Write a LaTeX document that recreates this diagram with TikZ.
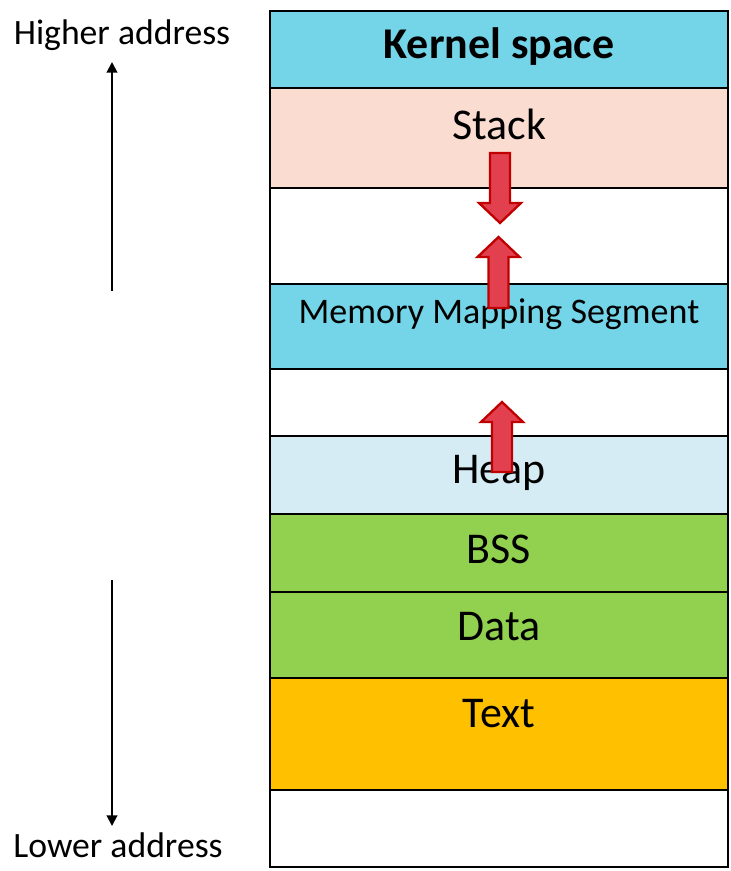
\documentclass[tikz,border=0pt]{standalone}
\usepackage{fontspec}
\setmainfont{Carlito}
\usepackage{tikz}
\usetikzlibrary{arrows.meta, positioning, calc}
\definecolor{kernelcyan}{HTML}{75D5E8}
\definecolor{stackpeach}{HTML}{FADDD0}
\definecolor{heapblue}{HTML}{D5ECF4}
\definecolor{bssgreen}{HTML}{92D050}
\definecolor{textorange}{HTML}{FFC000}
\definecolor{arrowfill}{HTML}{E3404F}
\definecolor{arrowdraw}{HTML}{C00000}
\tikzset{
  seg/.style={draw=black, line width=0.8pt},
  segtext/.style={font=\fontsize{25}{29}\selectfont, inner sep=0pt},
  addrtext/.style={font=\fontsize{20.3}{24}\selectfont, inner sep=0pt},
  addr/.style={line width=1.1pt, -{Triangle[length=6pt, width=6pt]}},
  blockarrow/.style={fill=arrowfill, draw=arrowdraw, line width=1.3pt, line join=miter}
}
\newcommand{\blockarrow}[4]{
    \draw[blockarrow] (#1-10,#2) -- (#1-10,#3) -- (#1-21,#3) -- (#1,#4)
        -- (#1+21,#3) -- (#1+10,#3) -- (#1+10,#2) -- cycle;
}

\begin{document}
\begin{tikzpicture}[x=0.02cm, y=-0.02cm]
    \useasboundingbox (0,0) rectangle (730,871);

    % Segmentos de memoria
    \draw[seg, fill=kernelcyan] (270,11) rectangle (728,88);
    \draw[seg, fill=stackpeach] (270,88) rectangle (728,188);
    \draw[seg, fill=white] (270,188) rectangle (728,284);
    \draw[seg, fill=kernelcyan] (270,284) rectangle (728,369);
    \draw[seg, fill=white] (270,369) rectangle (728,436);
    \draw[seg, fill=heapblue] (270,436) rectangle (728,514);
    \draw[seg, fill=bssgreen] (270,514) rectangle (728,592);
    \draw[seg, fill=bssgreen] (270,592) rectangle (728,678);
    \draw[seg, fill=textorange] (270,678) rectangle (728,790);
    \draw[seg, fill=white] (270,790) rectangle (728,867);

    % Etiquetas de los segmentos
    \node[segtext, font=\fontsize{25}{29}\selectfont\bfseries] (kernel) at (499,47) {Kernel space};
    \node[segtext] (stack) at (499,124) {Stack};
    \node[segtext, font=\fontsize{20.5}{24}\selectfont] (mmap) at (499,314) {Memory Mapping Segment};
    \node[segtext] (heap) at (499,473) {Heap};
    \node[segtext] (bss) at (499,549) {BSS};
    \node[segtext] (data) at (499,627) {Data};
    \node[segtext] (text) at (499,714) {Text};

    % Flechas de crecimiento
    \blockarrow{500}{153}{203}{223}
    \blockarrow{498.5}{308}{257}{237}
    \blockarrow{502}{472}{422}{402}

    % Direcciones
    \node[addrtext] (higher) at (122,35) {Higher address};
    \node[addrtext] (lower) at (118,845) {Lower address};
    \coordinate (uptail) at (112,291);
    \coordinate (uptip) at (112,62);
    \coordinate (downtail) at (112,580);
    \coordinate (downtip) at (112,826);
    \draw[addr] (uptail) -- (uptip);
    \draw[addr] (downtail) -- (downtip);

\end{tikzpicture}
\end{document}
